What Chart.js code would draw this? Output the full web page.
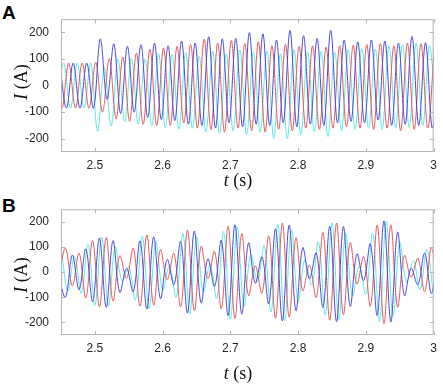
<!DOCTYPE html>
<html>
<head>
<meta charset="utf-8">
<script src="https://cdn.jsdelivr.net/npm/chart.js@4.4.1/dist/chart.umd.min.js"></script>
<style>
  body { margin: 0; background: #fff; width: 443px; height: 385px; position: relative; overflow: hidden; }
  .panel { position: absolute; left: 0; }
  .tag { position: absolute; left: 2px; font: bold 19px "Liberation Sans", Arial, sans-serif; color: #000; line-height: 1; }
  .ylab, .xlab { position: absolute; font: 18px "Liberation Serif", "Times New Roman", serif; color: #111; white-space: nowrap; line-height: 1; }
  .ylab { transform: translate(-50%, -50%) rotate(-90deg); }
  .xlab { transform: translate(-50%, -50%); }
</style>
</head>
<body>
<div class="tag" style="top:3px">A</div>
<div class="tag" style="top:196px">B</div>
<canvas id="chartA" class="panel" style="top:0" width="443" height="190"></canvas>
<canvas id="chartB" class="panel" style="top:190px" width="443" height="195"></canvas>
<div class="ylab" style="left:21px; top:82px"><i>I</i> (A)</div>
<div class="xlab" style="left:238px; top:180px"><i>t</i> (s)</div>
<div class="ylab" style="left:21px; top:275px"><i>I</i> (A)</div>
<div class="xlab" style="left:238px; top:373px"><i>t</i> (s)</div>
<script>
// axis ticks
const xTicks = [2.5, 2.6, 2.7, 2.8, 2.9, 3.0];
const xTickLabels = ['2.5', '2.6', '2.7', '2.8', '2.9', '3'];
const yTicks = [-200, -100, 0, 100, 200];

// half-cycle spacing of the peaks/troughs (50 Hz)
const halfCycle = 0.01;

// Panel A: successive peak/trough values of each phase current (A)
const startA = { blue: 2.448, red: 2.4413, cyan: 2.444 };
const blueA = [85, -85, 85, -85, 85, -85, 176, -52, 157, -105, 148, -100, 154, -120, 160, -128, 150, -132, 168, -145,
  160, -150, 184, -160, 176, -140, 178, -155, 200, -145, 195, -150, 172, -140, 208, -155, 188, -145, 178, -150,
  208, -140, 172, -135, 165, -140, 172, -130, 168, -150, 160, -145, 185, -150, 162, -160, 150];
const redA = [85, -85, 85, -85, 85, -85, 88, -100, 101, -125, 107, -134, 122, -146, 137, -150, 142, -150, 148, -140,
  155, -160, 175, -165, 160, -175, 170, -160, 158, -170, 165, -175, 150, -165, 155, -170, 148, -160, 150, -165,
  145, -160, 150, -155, 152, -160, 155, -165, 158, -160, 150, -170, 160, -165, 158, -160, 155];
const cyanA = [-85, 85, -85, 85, -85, 85, -172, 68, -152, 100, -135, 102, -146, 100, -152, 120, -158, 118, -164, 125,
  -160, 110, -175, 130, -180, 120, -170, 135, -185, 125, -175, 130, -199, 120, -200, 135, -185, 128, -175, 130,
  -192, 125, -170, 135, -165, 140, -160, 138, -165, 150, -160, 155, -158, 160, -150, 150, -155];

// Panel B: beating currents, peak/trough values
const startB = { blue: 2.4467, red: 2.4467, cyan: 2.45 };
const blueB = [-20, -100, 68, -70, 92, -118, 135, -140, 125, -80, 15, -78, 124, -147, 140, -105, 50, -50, 121, -162,
  163, -123, 53, -57, 126, -173, 188, -167, 116, -44, 60, -125, 172, -194, 187, -153, 97, -27, 76, -140,
  182, -197, 181, -136, 72, -34, 112, -172, 203, -198, 159, -93, 15, -50, 75, -85, 100];
const redB = [-20, 95, -55, 75, -102, 125, -138, 138, -115, 65, -25, 95, -135, 148, -131, 89, -30, 75, -138, 167,
  -154, 102, -26, 82, -145, 182, -185, 153, -93, 25, -84, 144, -183, 195, -179, 136, -74, 28, -100, 157,
  -191, 195, -169, 117, -47, 62, -135, 186, -205, 188, -139, 66, -20, 55, -78, 96, -102];
const cyanB = [100, -75, 62, -85, 110, -132, 140, -135, 100, -35, 20, -111, 143, -146, 120, -71, 23, -99, 153, -167,
  140, -78, 31, -105, 161, -187, 178, -136, 69, -37, 105, -159, 190, -193, 167, -117, 51, -52, 121, -171,
  196, -189, 154, -95, 22, -88, 155, -196, 203, -175, 117, -40, 45, -70, 90, -100];

const colors = { blue: '#4b4bdc', red: '#e65a5a', cyan: '#5ee8e8' };

function toPoints(t0, vals) {
  return vals.map((v, i) => ({ x: t0 + i * halfCycle, y: v }));
}

function series(name, t0, vals) {
  return {
    data: toPoints(t0, vals),
    borderColor: colors[name],
    borderWidth: 1,
    pointRadius: 0,
    tension: 0.36,
    fill: false
  };
}

// box round the plot with inward tick marks on all four sides
const boxTicks = {
  id: 'boxTicks',
  afterDraw(chart) {
    const { ctx, chartArea: a, scales } = chart;
    ctx.save();
    ctx.strokeStyle = '#b4b4b4';
    ctx.lineWidth = 1;
    ctx.strokeRect(a.left + 0.5, a.top + 0.5, a.right - a.left - 1, a.bottom - a.top - 1);
    ctx.beginPath();
    xTicks.forEach(v => {
      const x = Math.round(scales.x.getPixelForValue(v)) + 0.5;
      ctx.moveTo(x, a.bottom); ctx.lineTo(x, a.bottom - 4);
      ctx.moveTo(x, a.top); ctx.lineTo(x, a.top + 4);
    });
    yTicks.forEach(v => {
      const y = Math.round(scales.y.getPixelForValue(v)) + 0.5;
      ctx.moveTo(a.left, y); ctx.lineTo(a.left + 4, y);
      ctx.moveTo(a.right, y); ctx.lineTo(a.right - 4, y);
    });
    ctx.stroke();
    ctx.restore();
  }
};

function makeChart(id, datasets, topPad, axisHeight) {
  const tickFont = { family: '"Liberation Sans", Arial, sans-serif', size: 12 };
  return new Chart(document.getElementById(id), {
    type: 'line',
    data: { datasets: datasets },
    options: {
      responsive: false,
      animation: false,
      layout: { padding: { top: topPad, right: 5, left: 0, bottom: 0 } },
      plugins: { legend: { display: false }, tooltip: { enabled: false } },
      scales: {
        x: {
          type: 'linear', min: 2.45, max: 3.0,
          grid: { display: false, drawTicks: false }, border: { display: false },
          afterBuildTicks: s => { s.ticks = xTicks.map(v => ({ value: v })); },
          afterFit: s => { s.height = axisHeight; },
          ticks: {
            color: '#262626', font: tickFont, padding: 6, maxRotation: 0, autoSkip: false,
            callback: v => xTickLabels[xTicks.indexOf(v)]
          }
        },
        y: {
          min: -250, max: 250,
          grid: { display: false, drawTicks: false }, border: { display: false },
          afterBuildTicks: s => { s.ticks = yTicks.map(v => ({ value: v })); },
          afterFit: s => { s.width = 61; },
          ticks: { color: '#262626', font: tickFont, padding: 12 }
        }
      }
    },
    plugins: [boxTicks]
  });
}

makeChart('chartA', [
  series('blue', startA.blue, blueA),
  series('red', startA.red, redA),
  series('cyan', startA.cyan, cyanA)
], 12, 38);

makeChart('chartB', [
  series('blue', startB.blue, blueB),
  series('red', startB.red, redB),
  series('cyan', startB.cyan, cyanB)
], 15, 50);
</script>
</body>
</html>
